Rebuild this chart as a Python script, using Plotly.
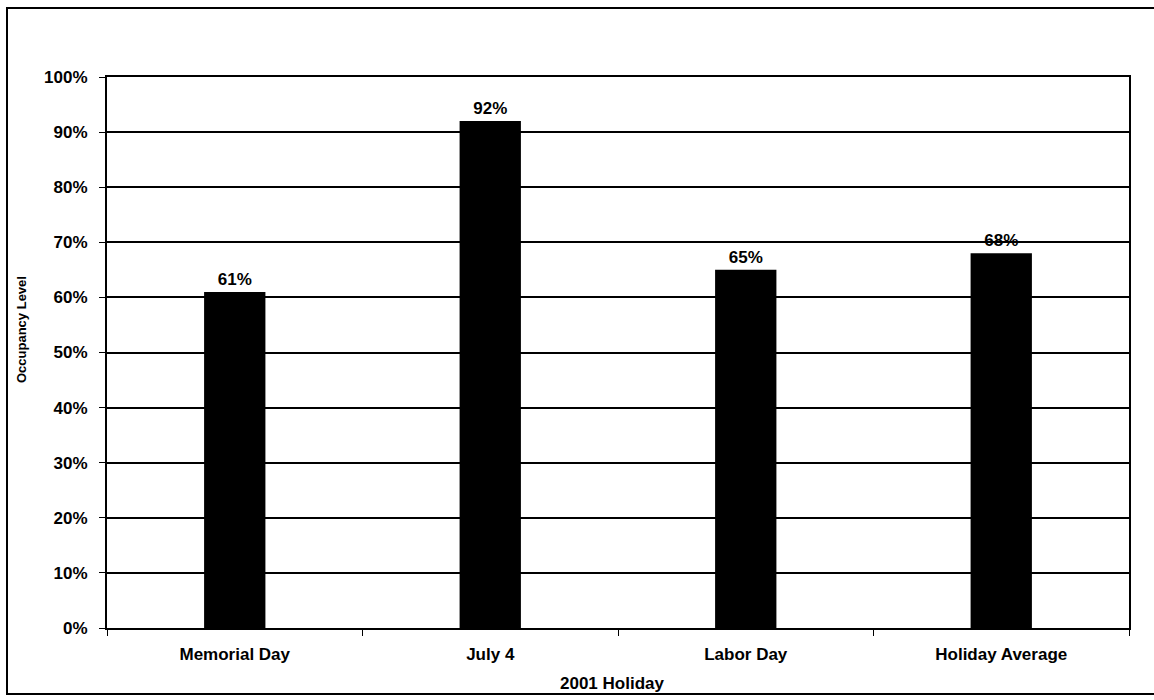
import plotly.graph_objects as go

holidays = ["Memorial Day", "July 4", "Labor Day", "Holiday Average"]
occupancy = [61, 92, 65, 68]
y_ticks = [0, 10, 20, 30, 40, 50, 60, 70, 80, 90, 100]
y_tick_labels = [f"{v}%" for v in y_ticks]

W, H = 1154, 700
ML, MR, MT, MB = 107, 25, 77, 72
pw, ph = W - ML - MR, H - MT - MB

font = "Liberation Sans, Arial, sans-serif"


def px_to_paper_x(px):
    return (px - ML) / pw


def px_to_paper_y(py):
    return (H - MB - py) / ph


fig = go.Figure(
    go.Bar(
        x=holidays,
        y=occupancy,
        width=0.24,
        marker=dict(color="black", line=dict(width=0)),
        text=[f"{v}%" for v in occupancy],
        textposition="outside",
        cliponaxis=False,
        textfont=dict(family=font, size=17, color="black", weight="bold"),
    )
)

fig.update_layout(
    width=W,
    height=H,
    margin=dict(l=ML, r=MR, t=MT, b=MB),
    paper_bgcolor="white",
    plot_bgcolor="white",
    showlegend=False,
    font=dict(family=font, color="black", size=15),
    xaxis=dict(
        type="category",
        showline=True,
        linecolor="black",
        linewidth=2,
        mirror=True,
        ticks="outside",
        tickson="boundaries",
        ticklen=6,
        tickcolor="black",
        tickwidth=1,
        showgrid=False,
        ticklabelstandoff=10,
        tickfont=dict(size=17, family=font, weight="bold"),
        automargin=False,
    ),
    yaxis=dict(
        range=[0, 100],
        tickvals=y_ticks,
        ticktext=y_tick_labels,
        showline=True,
        linecolor="black",
        linewidth=2,
        mirror=True,
        ticks="outside",
        ticklen=6,
        tickcolor="black",
        showgrid=True,
        gridcolor="black",
        gridwidth=2,
        zeroline=False,
        ticklabelstandoff=8,
        tickfont=dict(size=17, family=font, weight="bold"),
        automargin=False,
    ),
)

# axis titles
fig.add_annotation(
    text="Occupancy Level", textangle=-90, showarrow=False,
    xref="paper", yref="paper",
    x=px_to_paper_x(21), y=px_to_paper_y(330),
    xanchor="center", yanchor="middle",
    font=dict(size=13, family=font, weight="bold", color="black"),
)
fig.add_annotation(
    text="2001 Holiday", showarrow=False,
    xref="paper", yref="paper",
    x=px_to_paper_x(612), y=px_to_paper_y(683),
    xanchor="center", yanchor="middle",
    font=dict(size=17, family=font, weight="bold", color="black"),
)

# outer frame around the chart
fig.add_shape(
    type="rect", xref="paper", yref="paper",
    x0=px_to_paper_x(7), x1=px_to_paper_x(W + 5),
    y0=px_to_paper_y(694), y1=px_to_paper_y(8),
    line=dict(color="black", width=2), layer="below",
)

fig.write_html("out.html")
